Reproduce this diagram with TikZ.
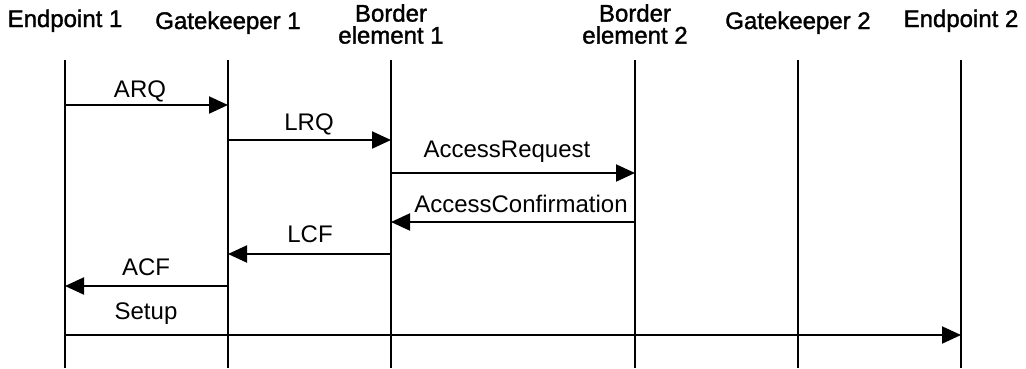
\documentclass[tikz,border=0pt]{standalone}
\usepackage{fontspec}
\setmainfont{Liberation Sans}
\newfontfamily\headfont[FakeBold=1.5]{Liberation Sans}
\usetikzlibrary{arrows.meta}

\begin{document}
\begin{tikzpicture}[x=1pt,y=-1pt,
                    every node/.style={inner sep=0pt},
                    party/.style={font=\headfont\fontsize{24}{22}\selectfont,align=center,anchor=base},
                    msglabel/.style={font=\fontsize{24}{25}\selectfont,anchor=base},
                    lifeline/.style={line width=1.5pt},
                    msg/.style={line width=2pt,-{Triangle[length=19pt,width=17pt]}}
]
\useasboundingbox (0,0) rectangle (1026,368);

% Draw the parties
\node [party] at (65,27) (ep1) {Endpoint 1};
\node [party] at (228,29) (gk1) {Gatekeeper 1};
\node [party,anchor=north] at (391,4) (be1) {Border\\element 1};
\node [party,anchor=north] at (635,4) (be2) {Border\\element 2};
\node [party] at (798,29) (gk2) {Gatekeeper 2};
\node [party] at (961,27) (ep2) {Endpoint 2};

% Draw the lifelines
\draw [lifeline] (ep1 |- 0,60) -- (ep1 |- 0,368);
\draw [lifeline] (gk1 |- 0,60) -- (gk1 |- 0,368);
\draw [lifeline] (be1 |- 0,60) -- (be1 |- 0,368);
\draw [lifeline] (be2 |- 0,60) -- (be2 |- 0,368);
\draw [lifeline] (gk2 |- 0,60) -- (gk2 |- 0,368);
\draw [lifeline] (ep2 |- 0,60) -- (ep2 |- 0,368);

% Draw the messages
\draw [msg] (ep1 |- 0,105) -- (gk1 |- 0,105);
\node [msglabel] at (140,97) (arq) {ARQ};
\draw [msg] (gk1 |- 0,140) -- (be1 |- 0,140);
\node [msglabel] at (309,130) (lrq) {LRQ};
\draw [msg] (be1 |- 0,173) -- (be2 |- 0,173);
\node [msglabel] at (507,157) (areq) {AccessRequest};
\draw [msg] (be2 |- 0,222) -- (be1 |- 0,222);
\node [msglabel] at (521,212) (aconf) {AccessConfirmation};
\draw [msg] (be1 |- 0,254) -- (gk1 |- 0,254);
\node [msglabel] at (310,242) (lcf) {LCF};
\draw [msg] (gk1 |- 0,286) -- (ep1 |- 0,286);
\node [msglabel] at (146,275) (acf) {ACF};
\draw [msg] (ep1 |- 0,335) -- (ep2 |- 0,335);
\node [msglabel] at (146,319) (setup) {Setup};

\end{tikzpicture}
\end{document}
